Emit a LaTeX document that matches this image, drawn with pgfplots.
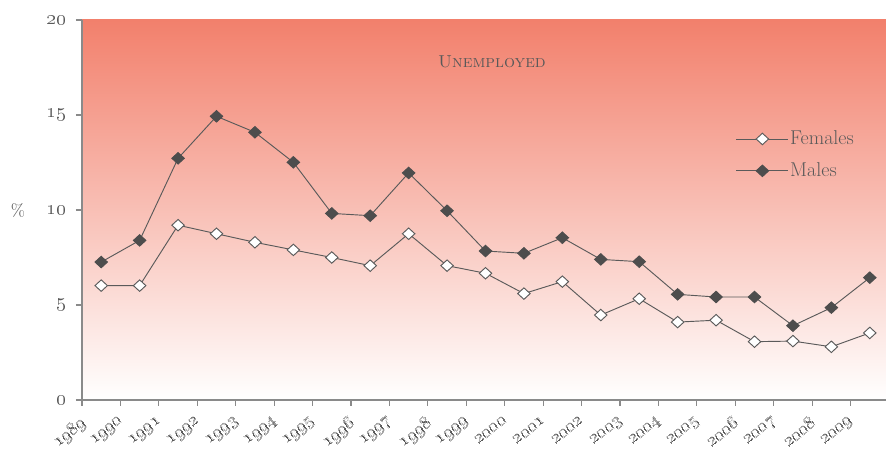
\RequirePackage{fix-cm}
\documentclass[border=0pt]{standalone}
\usepackage{pgfplots}
\pgfplotsset{compat=1.18}
\definecolor{txtGray}{HTML}{595959}
\definecolor{axGray}{HTML}{8A8A8A}
\definecolor{lnGray}{HTML}{5A5A5A}
\definecolor{mkDark}{HTML}{4D4D4D}
\definecolor{bgTop}{HTML}{F2806C}

\pgfplotstableread{
x  fem   mal
0  6.02  7.26
1  6.02  8.40
2  9.20  12.72
3  8.75  14.93
4  8.30  14.09
5  7.90  12.51
6  7.50  9.82
7  7.07  9.70
8  8.75  11.95
9  7.07  9.96
10 6.67  7.84
11 5.60  7.72
12 6.23  8.54
13 4.47  7.40
14 5.33  7.28
15 4.10  5.56
16 4.20  5.42
17 3.07  5.42
18 3.10  3.91
19 2.80  4.86
20 3.53  6.44
}\unemp

\begin{document}
\begin{tikzpicture}
  % the reference is cut off a few pixels before the right end of the axis
  \useasboundingbox (-61.5pt,-39pt) rectangle (603pt,300pt);
  \begin{axis}[
    scale only axis,
    width=605.25pt, height=285pt,
    xmin=-0.5, xmax=20.5,
    ymin=0, ymax=20,
    axis x line*=bottom, axis y line*=left,
    axis line style={draw=axGray, line width=0.8pt, -},
    axis background/.style={shade, top color=bgTop, bottom color=white},
    tick align=outside,
    xtick={0,...,20},
    xticklabels={\oldstylenums{1989},\oldstylenums{1990},\oldstylenums{1991},\oldstylenums{1992},\oldstylenums{1993},\oldstylenums{1994},\oldstylenums{1995},\oldstylenums{1996},\oldstylenums{1997},\oldstylenums{1998},\oldstylenums{1999},\oldstylenums{2000},\oldstylenums{2001},\oldstylenums{2002},\oldstylenums{2003},\oldstylenums{2004},\oldstylenums{2005},\oldstylenums{2006},\oldstylenums{2007},\oldstylenums{2008},\oldstylenums{2009}},
    major x tick style={draw=none},
    minor xtick={-0.5,0.5,...,20.5},
    minor x tick style={draw=axGray, line width=0.8pt},
    minor tick length=4.5pt,
    % shifts below act in the rotated frame of the label
    x tick label style={rotate=38, anchor=north east, font=\fontsize{14}{14}\selectfont, text=txtGray, inner sep=0pt, xshift=-17.2pt, yshift=4.4pt},
    ytick={0,5,10,15,20},
    yticklabels={\oldstylenums{0},\oldstylenums{5},\oldstylenums{10},\oldstylenums{15},\oldstylenums{20}},
    major y tick style={draw=axGray, line width=0.8pt},
    major tick length=4.5pt,
    y tick label style={font=\fontsize{15}{15}\selectfont, text=txtGray, xshift=-4pt},
    ylabel={\%},
    ylabel style={rotate=-90, font=\fontsize{13}{13}\selectfont, text=txtGray, at={(rel axis cs:0,0.5)}, anchor=center, xshift=-48pt},
    legend style={at={(0.81,0.712)}, anchor=north west, draw=none, fill=none,
      font=\fontsize{15}{15}\selectfont, text=txtGray, row sep=10pt, inner sep=0pt,
      nodes={inner sep=1pt}},
    legend cell align={left},
    legend image code/.code={\draw[mark repeat=2, mark phase=2] plot coordinates {(0pt,0pt) (19.5pt,0pt) (39pt,0pt)};},
  ]
    \addplot[color=lnGray, line width=0.7pt, mark=diamond*, mark size=4.3pt,
      mark options={fill=white, draw=lnGray, xscale=1.45}] table[x=x, y=fem] {\unemp};
    \addlegendentry{Females}
    \addplot[color=lnGray, line width=0.7pt, mark=diamond*, mark size=4.3pt,
      mark options={fill=mkDark, draw=mkDark, xscale=1.45}] table[x=x, y=mal] {\unemp};
    \addlegendentry{Males}
    \node[font=\fontsize{13}{13}\selectfont, text=txtGray] at (rel axis cs:0.508,0.89) {\textsc{Unemployed}};
  \end{axis}
\end{tikzpicture}
\end{document}
